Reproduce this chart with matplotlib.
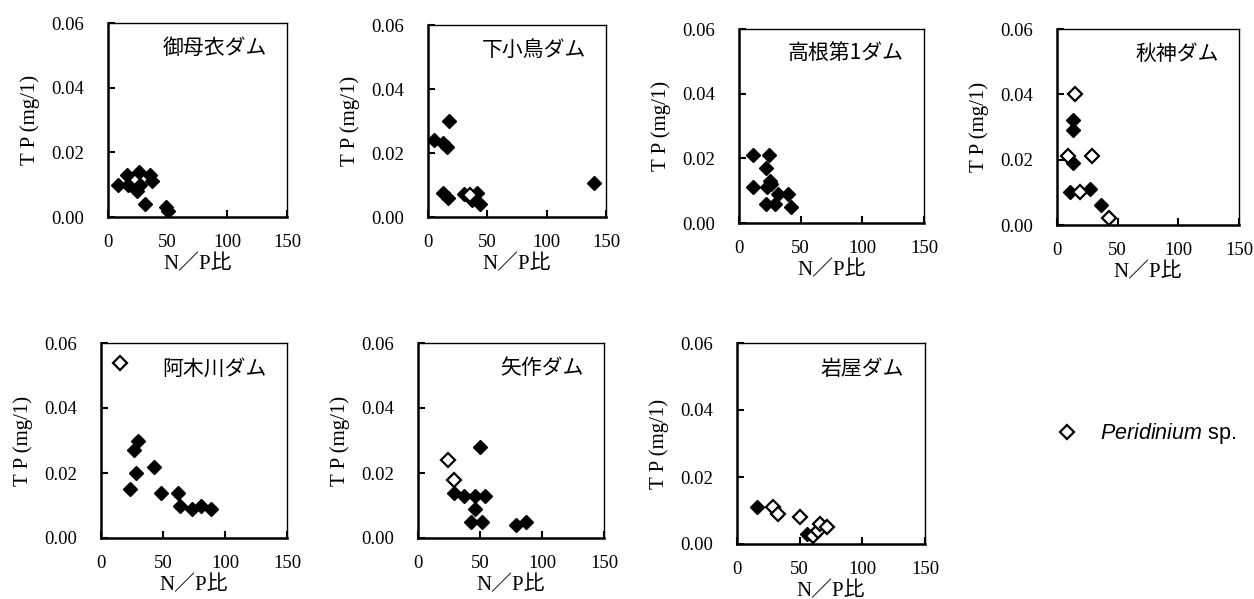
import matplotlib
matplotlib.use("Agg")
import matplotlib.pyplot as plt
from matplotlib.lines import Line2D

plt.rcParams['mathtext.fontset'] = 'custom'
plt.rcParams['mathtext.it'] = 'Liberation Sans:italic'
plt.rcParams['mathtext.rm'] = 'Liberation Sans'

# dam names
dams = ["御母衣ダム", "下小鳥ダム", "高根第1ダム", "秋神ダム", "阿木川ダム", "矢作ダム", "岩屋ダム"]

# filled diamonds (other samples): N/P ratio and TP (mg/l)
np_filled = [
    [8, 16, 17, 26, 27, 24, 35, 37, 31, 49, 50],
    [5, 13, 16, 18, 13, 17, 30, 37, 41, 44, 140],
    [11, 11, 24, 22, 25, 23, 26, 22, 29, 32, 40, 42],
    [13, 13, 13, 11, 27, 36],
    [23, 28, 27, 30, 43, 48, 62, 64, 73, 81, 89],
    [29, 37, 46, 54, 46, 50, 43, 52, 79, 87],
    [16, 56],
]
tp_filled = [
    [0.010, 0.013, 0.010, 0.014, 0.010, 0.008, 0.013, 0.011, 0.004, 0.003, 0.002],
    [0.024, 0.023, 0.022, 0.030, 0.0075, 0.006, 0.0073, 0.0052, 0.0075, 0.0042, 0.0106],
    [0.021, 0.011, 0.021, 0.017, 0.013, 0.011, 0.012, 0.006, 0.006, 0.009, 0.009, 0.005],
    [0.032, 0.029, 0.019, 0.010, 0.011, 0.006],
    [0.015, 0.020, 0.027, 0.030, 0.022, 0.014, 0.014, 0.010, 0.009, 0.010, 0.009],
    [0.014, 0.013, 0.013, 0.013, 0.009, 0.028, 0.005, 0.005, 0.004, 0.005],
    [0.011, 0.003],
]

# open diamonds (Peridinium sp.)
np_open = [[], [35], [], [15, 9, 29, 19, 43], [15], [24, 29], [29, 33, 50, 61, 65, 66, 72]]
tp_open = [[], [0.007], [], [0.040, 0.021, 0.021, 0.010, 0.002], [0.054], [0.024, 0.018],
           [0.011, 0.009, 0.008, 0.0025, 0.004, 0.006, 0.005]]

x_ticks = [0, 50, 100, 150]
y_ticks = [0.00, 0.02, 0.04, 0.06]

# axes boxes in pixels: left, top, right, bottom
boxes = [(108, 23, 287, 217), (428, 25, 606, 217), (739, 29, 924, 223), (1057, 29, 1239, 225),
         (101, 343, 287, 538), (418, 343, 604, 538), (737, 343, 925, 544)]

W, H = 1254, 599
fig = plt.figure(figsize=(W / 100, H / 100), dpi=100)

serif = ['Liberation Serif', 'Noto Sans CJK JP']

for i, name in enumerate(dams):
    l, t, r, b = boxes[i]
    ax = fig.add_axes([l / W, 1 - b / H, (r - l) / W, (b - t) / H])
    ax.plot(np_filled[i], tp_filled[i], 'D', color='black', markersize=7, linestyle='none')
    if np_open[i]:
        ax.plot(np_open[i], tp_open[i], 'D', markerfacecolor='white', markeredgecolor='black',
                markeredgewidth=1.6, markersize=7, linestyle='none')
    ax.set_xlim(0, 150)
    ax.set_ylim(0, 0.06)
    ax.set_xticks(x_ticks)
    ax.set_yticks(y_ticks)
    ax.set_yticklabels(["%.2f" % v for v in y_ticks])
    ax.tick_params(direction='in', length=5, width=1.5, top=False, right=False)
    ax.tick_params(axis='x', pad=12, labelsize=13.5)
    ax.tick_params(axis='y', pad=17, labelsize=13.5)
    for lab in ax.get_xticklabels() + ax.get_yticklabels():
        lab.set_family(serif)
    for side in ['left', 'bottom']:
        ax.spines[side].set_linewidth(1.8)
    for side in ['top', 'right']:
        ax.spines[side].set_linewidth(1.0)
    ax.set_xlabel("N／P比", family=serif, fontsize=15, labelpad=3)
    ax.set_ylabel("T P (mg/1)", family=serif, fontsize=15, labelpad=8)
    ax.text(0.89, 0.87, name, transform=ax.transAxes, ha='right', va='center',
            family=['Noto Sans CJK JP', 'DejaVu Sans'], fontsize=15)

legend_handle = Line2D([], [], marker='D', linestyle='none', markerfacecolor='white',
                       markeredgecolor='black', markeredgewidth=1.6, markersize=7)
fig.legend(handles=[legend_handle], labels=[r"$\it{Peridinium}$ sp."],
           loc='center left', bbox_to_anchor=(1026 / W, 1 - 434 / H), frameon=False,
           prop={'family': 'Liberation Sans', 'size': 15.5}, handletextpad=0.55)

fig.savefig("out.png", dpi=100)
